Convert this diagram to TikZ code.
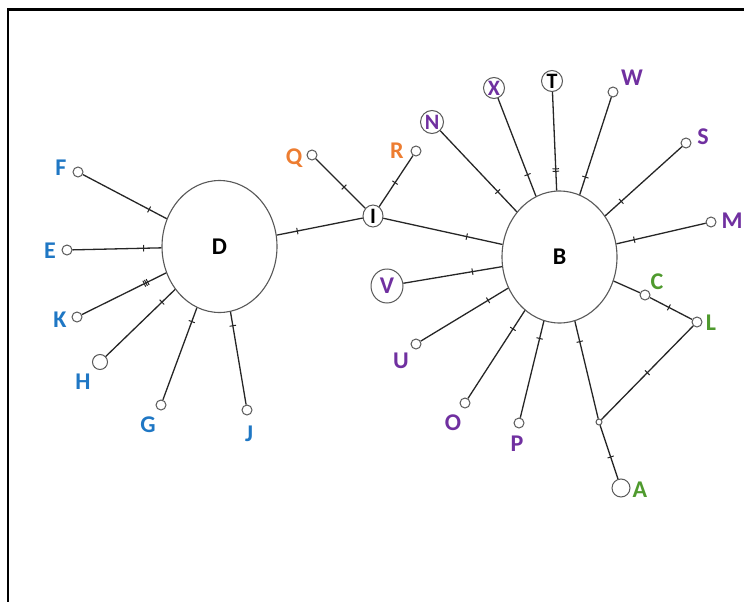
\documentclass[tikz,border=0pt]{standalone}
\usepackage{fontspec}
\setmainfont{Carlito}
\usetikzlibrary{shapes.geometric}
\definecolor{cblue}{HTML}{1F77C4}
\definecolor{corange}{HTML}{ED7D31}
\definecolor{cpurple}{HTML}{7030A0}
\definecolor{cgreen}{HTML}{4F9A2E}
\begin{document}
\begin{tikzpicture}[x=1pt,y=-1pt,
  leaf/.style={circle,draw=black!65,line width=1pt,fill=white,inner sep=0pt,minimum size=10pt},
  bigleaf/.style={circle,draw=black!65,line width=1pt,fill=white,inner sep=0pt,font=\fontsize{22}{22}\selectfont\bfseries},
  hub/.style={ellipse,draw=black!65,line width=1.1pt,fill=white,inner sep=0pt,minimum width=115pt,minimum height=132pt,font=\fontsize{24}{24}\selectfont\bfseries},
  lab/.style={font=\fontsize{24}{24}\selectfont\bfseries,inner sep=0pt},
  edge/.style={draw=black!85,line width=1.3pt},
  tk/.style={sloped,draw=black!85,line width=1pt,inner sep=0pt,minimum width=0pt,minimum height=6.5pt,rectangle}
]
\useasboundingbox (0,0) rectangle (744,602);
\draw[line width=2.6pt] (8,602) -- (8,9.5) -- (744,9.5);

% hubs
\node[hub] (D) at (219.5,246.5) {D};
\node[hub] (B) at (559.5,257) {B};
\node[bigleaf,ellipse,minimum width=20pt,minimum height=22pt] (I) at (373,216) {I};

% left leaves
\node[leaf] (F) at (78,172) {};
\node[leaf] (E) at (67,250) {};
\node[leaf] (K) at (77,317) {};
\node[leaf,minimum size=15pt] (H) at (100,362) {};
\node[leaf] (G) at (161,405) {};
\node[leaf] (J) at (247,410) {};
\node[lab,text=cblue] (lF) at (61,168) {F};
\node[lab,text=cblue] (lE) at (50,251) {E};
\node[lab,text=cblue] (lK) at (60,320) {K};
\node[lab,text=cblue] (lH) at (83,382) {H};
\node[lab,text=cblue] (lG) at (148,425) {G};
\node[lab,text=cblue] (lJ) at (249,434) {J};

% middle leaves
\node[leaf] (Q) at (312,155) {};
\node[leaf] (R) at (416,151) {};
\node[lab,text=corange] (lQ) at (294,158) {Q};
\node[lab,text=corange] (lR) at (397,151) {R};

% right leaves
\node[bigleaf,text=cpurple,minimum size=23pt] (N) at (432,122) {N};
\node[bigleaf,text=cpurple,minimum size=21pt] (X) at (494,88) {X};
\node[bigleaf,minimum size=21pt] (T) at (552,81) {T};
\node[leaf] (W) at (613,92) {};
\node[leaf] (S) at (686,143) {};
\node[leaf] (M) at (711,222) {};
\node[bigleaf,text=cpurple,ellipse,minimum width=32pt,minimum height=34pt,font=\fontsize{24}{24}\selectfont\bfseries] (V) at (387,286) {V};
\node[leaf] (U) at (416,344) {};
\node[leaf] (O) at (465,403) {};
\node[leaf] (P) at (519,423) {};
\node[leaf,minimum size=6pt] (j0) at (599,422) {};
\node[leaf,minimum size=18pt] (A) at (621,488) {};
\node[leaf] (C) at (645,295) {};
\node[leaf] (L) at (697,322) {};
\node[lab,text=cpurple] (lW) at (632,78) {W};
\node[lab,text=cpurple] (lS) at (703,137) {S};
\node[lab,text=cpurple] (lM) at (732,221) {M};
\node[lab,text=cpurple] (lU) at (401,361) {U};
\node[lab,text=cpurple] (lO) at (453,423) {O};
\node[lab,text=cpurple] (lP) at (517,444) {P};
\node[lab,text=cgreen] (lC) at (657,282) {C};
\node[lab,text=cgreen] (lL) at (711,323) {L};
\node[lab,text=cgreen] (lA) at (640,490) {A};

% left edges
\draw[edge] (F) -- node[tk,pos=0.79]{} (D);
\draw[edge] (E) -- node[tk,pos=0.80]{} (D);
\draw[edge] (K) -- node[tk,pos=0.74]{} node[tk,pos=0.76]{} node[tk,pos=0.78]{} (D);
\draw[edge] (H) -- node[tk,pos=0.81]{} (D);
\draw[edge] (G) -- node[tk,pos=0.85]{} (D);
\draw[edge] (J) -- node[tk,pos=0.85]{} (D);
\draw[edge] (I) -- node[tk,pos=0.76]{} (D);
\draw[edge] (Q) -- node[tk,pos=0.57]{} (I);
\draw[edge] (R) -- node[tk,pos=0.53]{} (I);
\draw[edge] (I) -- node[tk,pos=0.70]{} (B);

% right edges
\draw[edge] (N) -- node[tk,pos=0.75]{} (B);
\draw[edge] (X) -- node[tk,pos=0.78]{} (B);
\draw[edge] (T) -- node[tk,pos=0.78]{} node[tk,pos=0.805]{} (B);
\draw[edge] (W) -- node[tk,pos=0.82]{} (B);
\draw[edge] (S) -- node[tk,pos=0.79]{} (B);
\draw[edge] (M) -- node[tk,pos=0.80]{} (B);
\draw[edge] (V) -- node[tk,pos=0.70]{} (B);
\draw[edge] (U) -- node[tk,pos=0.77]{} (B);
\draw[edge] (O) -- node[tk,pos=0.79]{} (B);
\draw[edge] (P) -- node[tk,pos=0.82]{} (B);
\draw[edge] (j0) -- node[tk,pos=0.79]{} (B);
\draw[edge] (A) -- node[tk,pos=0.41]{} (j0);
\draw[edge] (L) -- node[tk,pos=0.50]{} (j0);
\draw[edge] (L) -- node[tk,pos=0.55]{} (C);
\draw[edge] (C) -- (B);
\end{tikzpicture}
\end{document}
